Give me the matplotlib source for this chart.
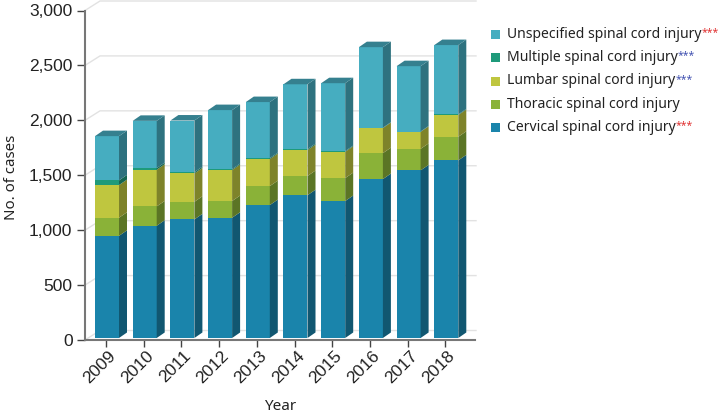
import matplotlib
matplotlib.use("Agg")

import numpy as np
import matplotlib.pyplot as plt
from matplotlib.patches import Polygon, Rectangle
from matplotlib.colors import to_rgb

# Values
years = ['2009', '2010', '2011', '2012', '2013', '2014', '2015', '2016', '2017', '2018']
cervical = [930, 1022, 1080, 1095, 1210, 1300, 1247, 1447, 1526, 1617]
thoracic = [165, 176, 160, 152, 173, 175, 209, 236, 196, 215]
lumbar = [297, 334, 258, 282, 246, 235, 239, 228, 155, 198]
multiple = [43, 15, 12, 9, 9, 10, 7, 4, 3, 6]
unspecified = [403, 430, 470, 537, 510, 590, 618, 733, 595, 631]
y_ticks = [0, 500, 1000, 1500, 2000, 2500, 3000]

series = [cervical, thoracic, lumbar, multiple, unspecified]
colors = ['#1a84ab', '#8ab238', '#bfc63f', '#1e9a7a', '#46adc0']
legend_names = ['Unspecified spinal cord injury', 'Multiple spinal cord injury',
                'Lumbar spinal cord injury', 'Thoracic spinal cord injury',
                'Cervical spinal cord injury']
legend_colors = ['#46adc0', '#1e9a7a', '#bfc63f', '#8ab238', '#1a84ab']
legend_stars = ['#e03030', '#4050b0', '#4050b0', None, '#e03030']

W, H = 719, 418
fig = plt.figure(figsize=(W / 100, H / 100), dpi=100)
ax = fig.add_axes([85 / W, (H - 340) / H, 390 / W, 329.5 / H])

px_x = 37.7          # pixels per category
px_y = 329.5 / 3000  # pixels per case
ax.set_xlim(-21 / px_x, 369 / px_x)
ax.set_ylim(0, 3000)

bar_w = 24 / px_x
bar_shift = 1 / px_x
side_dx = 8 / px_x
side_dy = 5.5 / px_y
base = 2 / px_y
wall_dx = 15 / px_x
wall_dy = 9.5 / px_y


def shade(c, f):
    return tuple(v * f for v in to_rgb(c))


# 3D back wall grid
x_left = ax.get_xlim()[0]
x_right = ax.get_xlim()[1]
for t in y_ticks:
    ax.plot([x_left, x_left + wall_dx, x_right + 1 / px_x],
            [t, t + wall_dy, t + wall_dy],
            color='#e2e2e2', lw=1, zorder=1, clip_on=False)

# Stacked bars with side and top faces
x = np.arange(len(years))
bar_x = x + bar_shift
bottom = np.full(len(years), base)
for vals, c in zip(series, colors):
    vals = np.array(vals)
    ax.bar(bar_x, vals, bar_w, bottom=bottom, color=c, lw=0, zorder=3)
    for xi, b, v in zip(bar_x, bottom, vals):
        r = xi + bar_w / 2
        ax.add_patch(Polygon([(r, b), (r + side_dx, b + side_dy),
                              (r + side_dx, b + v + side_dy), (r, b + v)],
                             closed=True, fc=shade(c, 0.66), lw=0, zorder=3))
    bottom = bottom + vals

for xi, t in zip(bar_x, bottom):
    l = xi - bar_w / 2
    r = xi + bar_w / 2
    ax.add_patch(Polygon([(l, t), (r, t), (r + side_dx, t + side_dy), (l + side_dx, t + side_dy)],
                         closed=True, fc='#35808f', lw=0, zorder=3, clip_on=False))

# Axes
for s in ['top', 'right']:
    ax.spines[s].set_visible(False)
for s in ['left', 'bottom']:
    ax.spines[s].set_color('#777777')
    ax.spines[s].set_linewidth(1.5)
ax.patch.set_visible(False)
ax.set_yticks(y_ticks)
ax.set_yticklabels([f'{t:,}' for t in y_ticks], fontsize=12.5, family='Liberation Sans', color='#222222')
ax.set_xticks(x)
ax.set_xticklabels(years, fontsize=12.5, family='Liberation Sans', color='#222222',
                   rotation=45, ha='right', rotation_mode='anchor')
ax.tick_params(axis='y', length=6, width=1, color='#444444', pad=3)
ax.tick_params(axis='x', length=5, width=1, color='#444444', pad=1)
for lab in ax.get_xticklabels():
    lab.set_x(lab.get_position()[0])
    lab.set_transform(lab.get_transform() + matplotlib.transforms.ScaledTranslation(2 / 100, 0, fig.dpi_scale_trans))

fig.text(12 / W, 1 - 177 / H, 'No. of cases', rotation=90, ha='center', va='center',
         fontsize=10.8, family='Noto Sans', color='#222222')
fig.text(280 / W, 1 - 407 / H, 'Year', ha='center', va='center',
         fontsize=11, family='Noto Sans', color='#222222')

# Legend
legend_y = [34, 57.5, 81, 104, 127.5]
for name, c, star, ly in zip(legend_names, legend_colors, legend_stars, legend_y):
    fig.add_artist(Rectangle((491 / W, 1 - (ly + 4.5) / H), 9 / W, 9 / H, transform=fig.transFigure,
                             fc=c, lw=0))
    txt = fig.text(507 / W, 1 - ly / H, name, ha='left', va='center',
                   fontsize=10.05, family='Noto Sans', color='#222222')
    if star:
        ax.annotate('***', xy=(1, 0.6), xycoords=txt, va='center', ha='left',
                    fontsize=7.5, family='Noto Sans', color=star, annotation_clip=False)

fig.savefig('out.png', dpi=100)
